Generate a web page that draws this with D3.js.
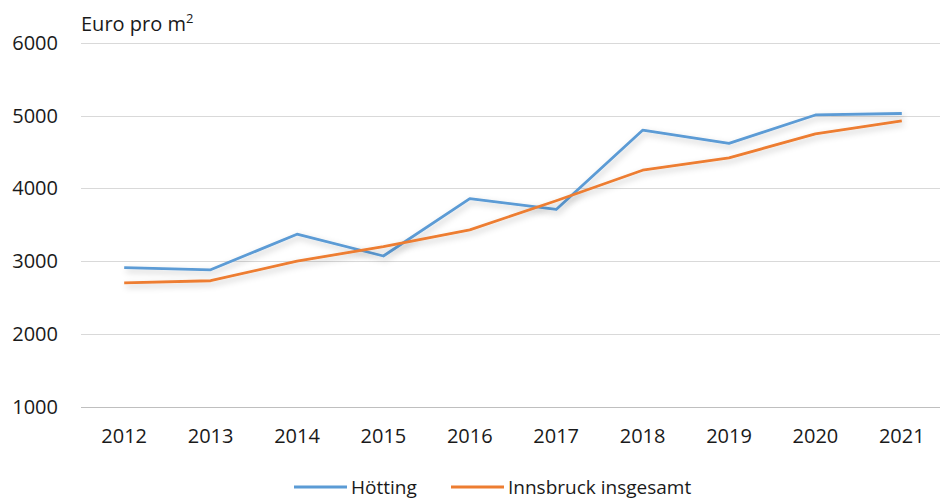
<!DOCTYPE html>
<html>
<head>
<meta charset="utf-8">
<script src="https://cdn.jsdelivr.net/npm/d3@7"></script>
<style>
  body { margin: 0; background: #fff; }
  text { font-family: "Open Sans", "Noto Sans", sans-serif; fill: #1a1a1a; }
</style>
</head>
<body>
<div id="chart"></div>
<script>
// data
const years = ['2012', '2013', '2014', '2015', '2016', '2017', '2018', '2019', '2020', '2021'];
const hoetting = [2910, 2880, 3370, 3070, 3860, 3710, 4800, 4620, 5010, 5030];
const innsbruck = [2700, 2730, 3000, 3200, 3430, 3830, 4250, 4420, 4750, 4930];
const yTicks = [1000, 2000, 3000, 4000, 5000, 6000];
const seriesNames = ['Hötting', 'Innsbruck insgesamt'];
const seriesColors = ['#5b9bd5', '#ed7d31'];

const width = 941, height = 500;
const margin = { top: 43, right: 1, bottom: 93, left: 81 };

const svg = d3.select('#chart')
  .append('svg')
  .attr('width', width)
  .attr('height', height);

// soft drop shadow like the office chart
const defs = svg.append('defs');
const filter = defs.append('filter')
  .attr('id', 'shadow')
  .attr('x', '-10%').attr('y', '-30%')
  .attr('width', '120%').attr('height', '160%');
filter.append('feDropShadow')
  .attr('dx', 2).attr('dy', 3)
  .attr('stdDeviation', 3)
  .attr('flood-color', '#000')
  .attr('flood-opacity', 0.22);

const x = d3.scalePoint()
  .domain(years)
  .range([margin.left, 945])
  .padding(0.5);

const y = d3.scaleLinear()
  .domain([1000, 6000])
  .range([height - margin.bottom - 0.5, margin.top]);

// grid lines
svg.append('g')
  .selectAll('line')
  .data(yTicks)
  .enter()
  .append('line')
  .attr('x1', margin.left)
  .attr('x2', width - margin.right)
  .attr('y1', d => Math.round(y(d)) + 0.5)
  .attr('y2', d => Math.round(y(d)) + 0.5)
  .attr('stroke', d => d === 1000 ? '#bfbfbf' : '#d9d9d9')
  .attr('stroke-width', 1);

// y labels
svg.append('g')
  .selectAll('text')
  .data(yTicks)
  .enter()
  .append('text')
  .attr('x', 58)
  .attr('y', d => y(d) + 7)
  .attr('text-anchor', 'end')
  .attr('font-size', '20px')
  .text(d => d);

// x labels
svg.append('g')
  .selectAll('text')
  .data(years)
  .enter()
  .append('text')
  .attr('x', d => x(d))
  .attr('y', 443)
  .attr('text-anchor', 'middle')
  .attr('font-size', '20px')
  .text(d => d);

// unit label
const unit = svg.append('text')
  .attr('x', 81)
  .attr('y', 31)
  .attr('font-size', '20px')
  .text('Euro pro m');
unit.append('tspan')
  .attr('font-size', '13px')
  .attr('dy', -8)
  .text('2');

// lines
const line = d3.line()
  .x((d, i) => x(years[i]))
  .y(d => y(d));

[hoetting, innsbruck].forEach((values, k) => {
  svg.append('path')
    .datum(values)
    .attr('d', line)
    .attr('fill', 'none')
    .attr('stroke', seriesColors[k])
    .attr('stroke-width', 2.8)
    .attr('stroke-linejoin', 'round')
    .attr('filter', 'url(#shadow)');
});

// legend
const legendX = [294, 451];
seriesNames.forEach((name, k) => {
  const g = svg.append('g').attr('transform', `translate(${legendX[k]}, 487)`);
  g.append('line')
    .attr('x1', 0).attr('x2', 53)
    .attr('y1', 0).attr('y2', 0)
    .attr('stroke', seriesColors[k])
    .attr('stroke-width', 2.8);
  g.append('text')
    .attr('x', 57)
    .attr('y', 7)
    .attr('font-size', '19px')
    .text(name);
});
</script>
</body>
</html>
